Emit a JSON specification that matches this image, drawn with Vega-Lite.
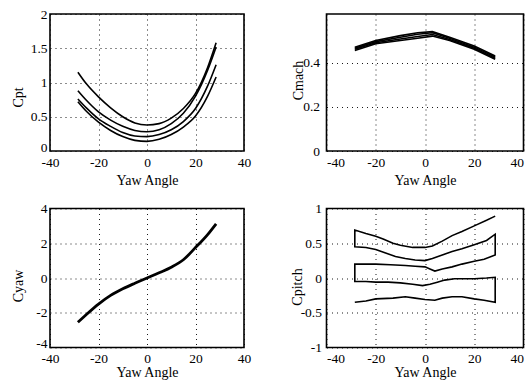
{
  "$schema": "https://vega.github.io/schema/vega-lite/v6.json",
  "background": "white",
  "padding": {"left": 10, "top": 6, "right": 0, "bottom": 0},
  "autosize": {"type": "pad"},
  "columns": 2,
  "spacing": {"row": 57.5, "column": 82.5},
  "bounds": "flush",
  "align": "each",
  "config": {
    "view": {"stroke": "black", "strokeWidth": 1.6},
    "axis": {
      "grid": true, "gridColor": "black", "gridDash": [1, 4], "gridWidth": 1, "gridOpacity": 0.9,
      "domain": false, "ticks": false,
      "labelFont": "Liberation Serif", "labelFontSize": 13.5, "labelColor": "black",
      "labelFlush": false, "labelOverlap": false, "labelBound": false,
      "labelExpr": "'' + datum.value",
      "titleFont": "Liberation Serif", "titleFontSize": 14, "titleFontWeight": "normal", "titleColor": "black",
      "titleBaseline": "middle"
    },
    "axisX": {"labelPadding": 4},
    "axisY": {"labelPadding": 3}
  },
  "datasets": {
    "cpt": [
      {"yaw": -28.5, "run": "A", "v": 1.15}, {"yaw": -25, "run": "A", "v": 0.98}, {"yaw": -20, "run": "A", "v": 0.79}, {"yaw": -15, "run": "A", "v": 0.63}, {"yaw": -10, "run": "A", "v": 0.5}, {"yaw": -5, "run": "A", "v": 0.41}, {"yaw": 0, "run": "A", "v": 0.38}, {"yaw": 5, "run": "A", "v": 0.4}, {"yaw": 10, "run": "A", "v": 0.48}, {"yaw": 15, "run": "A", "v": 0.62}, {"yaw": 20, "run": "A", "v": 0.84}, {"yaw": 25, "run": "A", "v": 1.22}, {"yaw": 28.5, "run": "A", "v": 1.58},
      {"yaw": -28.5, "run": "B", "v": 0.88}, {"yaw": -25, "run": "B", "v": 0.74}, {"yaw": -20, "run": "B", "v": 0.57}, {"yaw": -15, "run": "B", "v": 0.45}, {"yaw": -10, "run": "B", "v": 0.36}, {"yaw": -5, "run": "B", "v": 0.3}, {"yaw": 0, "run": "B", "v": 0.28}, {"yaw": 5, "run": "B", "v": 0.31}, {"yaw": 10, "run": "B", "v": 0.4}, {"yaw": 15, "run": "B", "v": 0.55}, {"yaw": 20, "run": "B", "v": 0.8}, {"yaw": 25, "run": "B", "v": 1.18}, {"yaw": 28.5, "run": "B", "v": 1.52},
      {"yaw": -28.5, "run": "C", "v": 0.76}, {"yaw": -25, "run": "C", "v": 0.63}, {"yaw": -20, "run": "C", "v": 0.47}, {"yaw": -15, "run": "C", "v": 0.36}, {"yaw": -10, "run": "C", "v": 0.27}, {"yaw": -5, "run": "C", "v": 0.22}, {"yaw": 0, "run": "C", "v": 0.21}, {"yaw": 5, "run": "C", "v": 0.24}, {"yaw": 10, "run": "C", "v": 0.31}, {"yaw": 15, "run": "C", "v": 0.43}, {"yaw": 20, "run": "C", "v": 0.62}, {"yaw": 25, "run": "C", "v": 0.95}, {"yaw": 28.5, "run": "C", "v": 1.26},
      {"yaw": -28.5, "run": "D", "v": 0.72}, {"yaw": -25, "run": "D", "v": 0.58}, {"yaw": -20, "run": "D", "v": 0.42}, {"yaw": -15, "run": "D", "v": 0.3}, {"yaw": -10, "run": "D", "v": 0.21}, {"yaw": -5, "run": "D", "v": 0.155}, {"yaw": 0, "run": "D", "v": 0.14}, {"yaw": 5, "run": "D", "v": 0.17}, {"yaw": 10, "run": "D", "v": 0.24}, {"yaw": 15, "run": "D", "v": 0.35}, {"yaw": 20, "run": "D", "v": 0.51}, {"yaw": 25, "run": "D", "v": 0.8}, {"yaw": 28.5, "run": "D", "v": 1.08}
    ],
    "cmach": [
      {"yaw": -28.5, "run": "A", "v": 0.47}, {"yaw": -20, "run": "A", "v": 0.5}, {"yaw": -10, "run": "A", "v": 0.522}, {"yaw": -3, "run": "A", "v": 0.535}, {"yaw": 3, "run": "A", "v": 0.54}, {"yaw": 10, "run": "A", "v": 0.515}, {"yaw": 20, "run": "A", "v": 0.475}, {"yaw": 28.5, "run": "A", "v": 0.43},
      {"yaw": -28.5, "run": "B", "v": 0.465}, {"yaw": -20, "run": "B", "v": 0.495}, {"yaw": -10, "run": "B", "v": 0.515}, {"yaw": -3, "run": "B", "v": 0.528}, {"yaw": 3, "run": "B", "v": 0.535}, {"yaw": 10, "run": "B", "v": 0.51}, {"yaw": 20, "run": "B", "v": 0.47}, {"yaw": 28.5, "run": "B", "v": 0.425},
      {"yaw": -28.5, "run": "C", "v": 0.46}, {"yaw": -20, "run": "C", "v": 0.49}, {"yaw": -10, "run": "C", "v": 0.507}, {"yaw": -3, "run": "C", "v": 0.518}, {"yaw": 3, "run": "C", "v": 0.527}, {"yaw": 10, "run": "C", "v": 0.505}, {"yaw": 20, "run": "C", "v": 0.465}, {"yaw": 28.5, "run": "C", "v": 0.42},
      {"yaw": -28.5, "run": "D", "v": 0.455}, {"yaw": -20, "run": "D", "v": 0.485}, {"yaw": -10, "run": "D", "v": 0.5}, {"yaw": -3, "run": "D", "v": 0.51}, {"yaw": 3, "run": "D", "v": 0.52}, {"yaw": 10, "run": "D", "v": 0.5}, {"yaw": 20, "run": "D", "v": 0.46}, {"yaw": 28.5, "run": "D", "v": 0.415}
    ],
    "cyaw": [
      {"yaw": -28.5, "v": -2.55}, {"yaw": -25, "v": -2.1}, {"yaw": -20, "v": -1.5}, {"yaw": -15, "v": -1.0}, {"yaw": -10, "v": -0.62}, {"yaw": -5, "v": -0.3}, {"yaw": 0, "v": 0}, {"yaw": 5, "v": 0.3}, {"yaw": 10, "v": 0.62}, {"yaw": 15, "v": 1.05}, {"yaw": 20, "v": 1.75}, {"yaw": 25, "v": 2.5}, {"yaw": 28.5, "v": 3.12}
    ],
    "cpitch": [
      {"o": 1, "yaw": 28.5, "v": 0.89}, {"o": 2, "yaw": 25, "v": 0.83}, {"o": 3, "yaw": 20, "v": 0.75}, {"o": 4, "yaw": 15, "v": 0.67}, {"o": 5, "yaw": 11, "v": 0.61}, {"o": 6, "yaw": 7, "v": 0.53}, {"o": 7, "yaw": 3, "v": 0.46}, {"o": 8, "yaw": 0, "v": 0.44}, {"o": 9, "yaw": -5, "v": 0.44}, {"o": 10, "yaw": -10, "v": 0.47}, {"o": 11, "yaw": -13, "v": 0.5}, {"o": 12, "yaw": -17, "v": 0.56}, {"o": 13, "yaw": -20, "v": 0.6}, {"o": 14, "yaw": -24, "v": 0.64}, {"o": 15, "yaw": -28.5, "v": 0.69},
      {"o": 16, "yaw": -28.5, "v": 0.45}, {"o": 17, "yaw": -24, "v": 0.44}, {"o": 18, "yaw": -20, "v": 0.41}, {"o": 19, "yaw": -16, "v": 0.36}, {"o": 20, "yaw": -12, "v": 0.31}, {"o": 21, "yaw": -8, "v": 0.28}, {"o": 22, "yaw": -4, "v": 0.26}, {"o": 23, "yaw": 0, "v": 0.25}, {"o": 24, "yaw": 3, "v": 0.28}, {"o": 25, "yaw": 7, "v": 0.33}, {"o": 26, "yaw": 11, "v": 0.38}, {"o": 27, "yaw": 15, "v": 0.42}, {"o": 28, "yaw": 20, "v": 0.48}, {"o": 29, "yaw": 25, "v": 0.54}, {"o": 30, "yaw": 28.5, "v": 0.63},
      {"o": 31, "yaw": 28.5, "v": 0.33}, {"o": 32, "yaw": 24, "v": 0.27}, {"o": 33, "yaw": 20, "v": 0.24}, {"o": 34, "yaw": 15, "v": 0.2}, {"o": 35, "yaw": 11, "v": 0.16}, {"o": 36, "yaw": 7, "v": 0.13}, {"o": 37, "yaw": 4, "v": 0.1}, {"o": 38, "yaw": 2, "v": 0.13}, {"o": 39, "yaw": 0, "v": 0.16}, {"o": 40, "yaw": -4, "v": 0.17}, {"o": 41, "yaw": -8, "v": 0.18}, {"o": 42, "yaw": -14, "v": 0.19}, {"o": 43, "yaw": -20, "v": 0.2}, {"o": 44, "yaw": -28.5, "v": 0.2},
      {"o": 45, "yaw": -28.5, "v": -0.05}, {"o": 46, "yaw": -24, "v": -0.05}, {"o": 47, "yaw": -20, "v": -0.06}, {"o": 48, "yaw": -15, "v": -0.06}, {"o": 49, "yaw": -10, "v": -0.07}, {"o": 50, "yaw": -5, "v": -0.09}, {"o": 51, "yaw": -1, "v": -0.11}, {"o": 52, "yaw": 2, "v": -0.09}, {"o": 53, "yaw": 5, "v": -0.06}, {"o": 54, "yaw": 8, "v": -0.03}, {"o": 55, "yaw": 12, "v": -0.01}, {"o": 56, "yaw": 20, "v": -0.01}, {"o": 57, "yaw": 25, "v": 0.0}, {"o": 58, "yaw": 28.5, "v": 0.01},
      {"o": 59, "yaw": 28.5, "v": -0.35}, {"o": 60, "yaw": 24, "v": -0.32}, {"o": 61, "yaw": 20, "v": -0.3}, {"o": 62, "yaw": 15, "v": -0.27}, {"o": 63, "yaw": 11, "v": -0.27}, {"o": 64, "yaw": 7, "v": -0.29}, {"o": 65, "yaw": 4, "v": -0.32}, {"o": 66, "yaw": 0, "v": -0.31}, {"o": 67, "yaw": -4, "v": -0.29}, {"o": 68, "yaw": -8, "v": -0.27}, {"o": 69, "yaw": -13, "v": -0.29}, {"o": 70, "yaw": -20, "v": -0.3}, {"o": 71, "yaw": -24, "v": -0.33}, {"o": 72, "yaw": -28.5, "v": -0.35}
    ]
  },
  "concat": [
    {
      "width": 194, "height": 137,
      "data": {"name": "cpt"},
      "mark": {"type": "line", "color": "black", "strokeWidth": 1.6, "interpolate": "monotone"},
      "encoding": {
        "x": {"field": "yaw", "type": "quantitative", "scale": {"domain": [-40, 40], "nice": false, "zero": false},
              "axis": {"title": "Yaw Angle", "values": [-40, -20, 0, 20, 40], "titleY": 29}},
        "y": {"field": "v", "type": "quantitative", "scale": {"domain": [0, 2], "nice": false},
              "axis": {"title": "Cpt", "values": [0, 0.5, 1, 1.5, 2], "titleX": -32, "titleY": 83,
                       "labelBaseline": {"condition": {"test": "datum.value == 0", "value": "alphabetic"}, "value": "middle"}}},
        "detail": {"field": "run", "type": "nominal"}
      }
    },
    {
      "width": 197, "height": 137,
      "data": {"name": "cmach"},
      "mark": {"type": "line", "color": "black", "strokeWidth": 1.6},
      "encoding": {
        "x": {"field": "yaw", "type": "quantitative", "scale": {"domain": [-40, 40], "nice": false, "zero": false},
              "axis": {"title": "Yaw Angle", "values": [-40, -20, 0, 20, 40], "titleY": 29,
                       "labelAlign": {"condition": [{"test": "datum.value == 40", "value": "right"}, {"test": "datum.value == -40", "value": "left"}], "value": "center"}}},
        "y": {"field": "v", "type": "quantitative", "scale": {"domain": [0, 0.62], "nice": false},
              "axis": {"title": "Cmach", "values": [0, 0.2, 0.4], "titleX": -28.5, "titleY": 66, "labelPadding": 7}},
        "detail": {"field": "run", "type": "nominal"}
      }
    },
    {
      "width": 194, "height": 139,
      "data": {"name": "cyaw"},
      "mark": {"type": "line", "color": "black", "strokeWidth": 2.8, "interpolate": "monotone"},
      "encoding": {
        "x": {"field": "yaw", "type": "quantitative", "scale": {"domain": [-40, 40], "nice": false, "zero": false},
              "axis": {"title": "Yaw Angle", "values": [-40, -20, 0, 20, 40], "titleY": 25}},
        "y": {"field": "v", "type": "quantitative", "scale": {"domain": [-4, 4], "nice": false},
              "axis": {"title": "Cyaw", "values": [-4, -2, 0, 2, 4], "titleX": -32, "titleY": 77,
                       "labelBaseline": {"condition": {"test": "datum.value == -4", "value": "alphabetic"}, "value": "middle"}}}
      }
    },
    {
      "width": 197, "height": 139,
      "data": {"name": "cpitch"},
      "mark": {"type": "line", "color": "black", "strokeWidth": 1.6},
      "encoding": {
        "x": {"field": "yaw", "type": "quantitative", "scale": {"domain": [-40, 40], "nice": false, "zero": false},
              "axis": {"title": "Yaw Angle", "values": [-40, -20, 0, 20, 40], "titleY": 25,
                       "labelAlign": {"condition": [{"test": "datum.value == 40", "value": "right"}, {"test": "datum.value == -40", "value": "left"}], "value": "center"}}},
        "y": {"field": "v", "type": "quantitative", "scale": {"domain": [-1, 1], "nice": false},
              "axis": {"title": "Cpitch", "values": [-1, -0.5, 0, 0.5, 1], "titleX": -29, "titleY": 78, "labelPadding": 5}},
        "order": {"field": "o", "type": "quantitative"}
      }
    }
  ]
}
